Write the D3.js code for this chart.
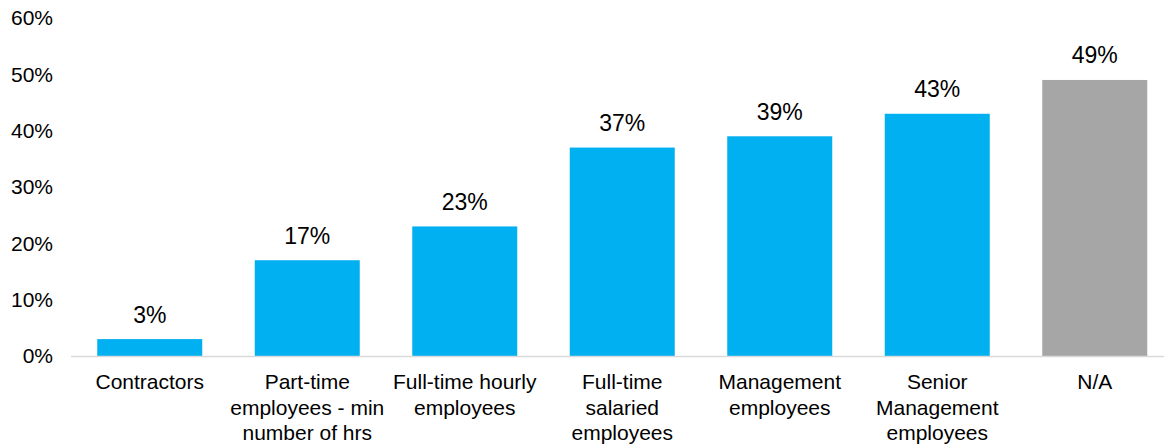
<!DOCTYPE html>
<html>
<head>
<meta charset="utf-8">
<script src="https://cdn.jsdelivr.net/npm/d3@7"></script>
<style>
  html, body { margin: 0; padding: 0; background: #fff; }
  svg { display: block; }
  text { font-family: "Liberation Sans", Arial, sans-serif; fill: #000; }
</style>
</head>
<body>
<svg id="chart" width="1164" height="444"></svg>
<script>
// Category labels (line breaks mark where each label wraps)
const categories = [
  "Contractors",
  "Part-time\nemployees - min\nnumber of hrs",
  "Full-time hourly\nemployees",
  "Full-time\nsalaried\nemployees",
  "Management\nemployees",
  "Senior\nManagement\nemployees",
  "N/A"
];
// Share of respondents, percent
const values = [3, 17, 23, 37, 39, 43, 49];
// Bar fills: blue for employee groups, grey for N/A
const barColors = ["#00b0f0", "#00b0f0", "#00b0f0", "#00b0f0", "#00b0f0", "#00b0f0", "#a6a6a6"];
// Y-axis ticks, percent
const yTicks = [0, 10, 20, 30, 40, 50, 60];

const svg = d3.select("#chart");
const margin = { left: 71, right: 0, top: 18, bottom: 88 };
const width = 1164, height = 444;
const fontSize = 21;
const valueFontSize = 23;

const x = d3.scaleBand()
  .domain(categories)
  .range([margin.left, margin.left + 7 * 157.5])
  .paddingInner(1 / 3)
  .paddingOuter(1 / 6);

const y = d3.scaleLinear()
  .domain([0, 60])
  .range([356, 18]);

// Y axis tick labels (no axis line, no tick marks)
const yAxis = d3.axisLeft(y)
  .tickValues(yTicks)
  .tickFormat(d => d + "%")
  .tickSize(0)
  .tickPadding(18);

const gy = svg.append("g")
  .attr("transform", `translate(${margin.left},0)`)
  .call(yAxis);
gy.select(".domain").remove();
gy.selectAll("text")
  .attr("font-size", fontSize)
  .attr("font-family", "Liberation Sans, Arial, sans-serif")
  .attr("fill", "#000");

// Bars
svg.append("g")
  .selectAll("rect")
  .data(values)
  .join("rect")
  .attr("x", (d, i) => x(categories[i]))
  .attr("width", x.bandwidth())
  .attr("y", d => y(d))
  .attr("height", d => y(0) - y(d))
  .attr("fill", (d, i) => barColors[i]);

// Baseline
svg.append("line")
  .attr("x1", margin.left)
  .attr("x2", width)
  .attr("y1", y(0) + 0.5)
  .attr("y2", y(0) + 0.5)
  .attr("stroke", "#d9d9d9")
  .attr("stroke-width", 1.5);

// Value labels above bars
svg.append("g")
  .selectAll("text")
  .data(values)
  .join("text")
  .attr("x", (d, i) => x(categories[i]) + x.bandwidth() / 2)
  .attr("y", d => y(d) - 16.5)
  .attr("text-anchor", "middle")
  .attr("font-size", valueFontSize)
  .text(d => d + "%");

// Category labels, wrapped onto several lines
const lineHeight = 25.5;
const catG = svg.append("g")
  .selectAll("text")
  .data(categories)
  .join("text")
  .attr("text-anchor", "middle")
  .attr("font-size", fontSize)
  .attr("x", d => x(d) + x.bandwidth() / 2)
  .attr("y", 389);

catG.each(function (d) {
  const t = d3.select(this);
  const cx = x(d) + x.bandwidth() / 2;
  d.split("\n").forEach((line, i) => {
    t.append("tspan")
      .attr("x", cx)
      .attr("y", 389 + i * lineHeight)
      .text(line);
  });
});
</script>
</body>
</html>
